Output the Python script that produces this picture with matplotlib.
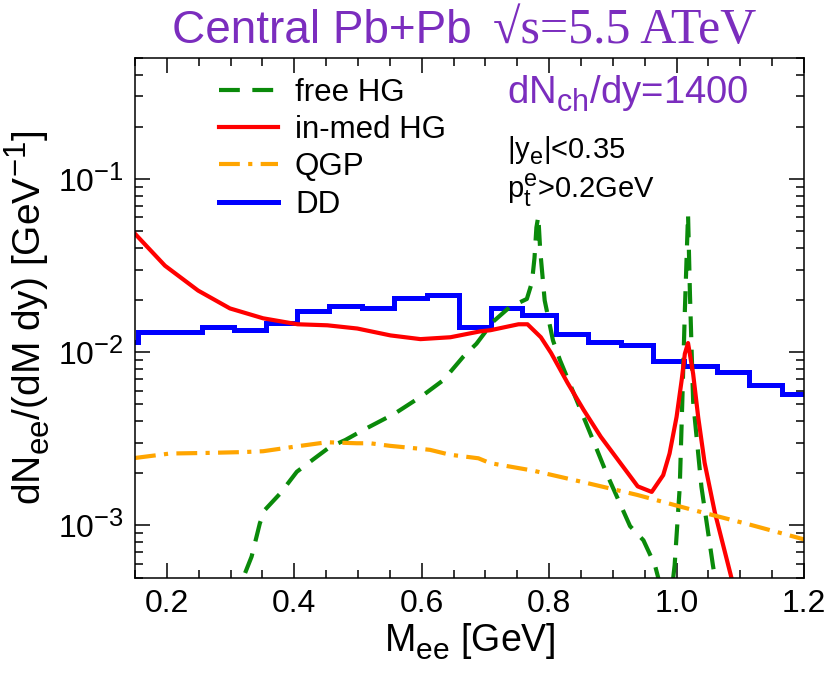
import matplotlib
matplotlib.use("Agg")
import matplotlib.pyplot as plt
import matplotlib._mathtext as _mt
import numpy as np
from matplotlib.ticker import LogLocator, MultipleLocator, NullFormatter

plt.rcParams['font.family'] = ['Liberation Sans', 'DejaVu Sans']
plt.rcParams['mathtext.fontset'] = 'custom'
plt.rcParams['mathtext.rm'] = 'Liberation Sans'
plt.rcParams['mathtext.it'] = 'Liberation Sans:italic'
plt.rcParams['mathtext.default'] = 'regular'
# larger, deeper sub/superscripts as in the reference
_mt.SHRINK_FACTOR = 0.8
_mt.FontConstantsBase.sub1 = 0.4
_mt.FontConstantsBase.sub2 = 0.55

# ---- data ----
red_x = [0.15, 0.197, 0.249, 0.299, 0.351, 0.405, 0.452, 0.499, 0.551, 0.598, 0.645,
         0.692, 0.708, 0.752, 0.766, 0.787, 0.803, 0.829, 0.854, 0.881, 0.908, 0.939,
         0.961, 0.979, 0.989, 1.000, 1.008, 1.013, 1.018, 1.026, 1.034, 1.044, 1.060,
         1.086, 1.100]
red_y = [0.0483, 0.0316, 0.0227, 0.0179, 0.0157, 0.0145, 0.0143, 0.0137, 0.0125, 0.0119,
         0.0122, 0.0132, 0.0134, 0.0145, 0.0145, 0.0122, 0.0099, 0.00664, 0.00465, 0.00325,
         0.00239, 0.00168, 0.00156, 0.00195, 0.0026, 0.00423, 0.0069, 0.0098, 0.0113,
         0.0075, 0.0042, 0.0023, 0.00119, 0.0005, 0.00035]

green_x = [0.305, 0.320, 0.333, 0.346, 0.354, 0.378, 0.404, 0.432, 0.456, 0.480, 0.508,
           0.558, 0.602, 0.634, 0.665, 0.686, 0.712, 0.738, 0.765, 0.773, 0.777, 0.780,
           0.783, 0.786, 0.793, 0.806, 0.817, 0.843, 0.869, 0.890, 0.927, 0.948, 0.966,
           0.978, 0.990, 0.997, 1.005, 1.009, 1.013, 1.018, 1.021, 1.026, 1.039, 1.057,
           1.070]
green_y = [3.5e-4, 5e-4, 6.6e-4, 1.03e-3, 1.23e-3, 1.53e-3, 2.04e-3, 2.44e-3, 2.84e-3,
           3.11e-3, 3.55e-3, 4.43e-3, 5.64e-3, 6.9e-3, 9.4e-3, 0.0112, 0.0150, 0.0182,
           0.0203, 0.0253, 0.035, 0.0525, 0.061, 0.0386, 0.0199, 0.0117, 0.0090, 5.3e-3,
           3.1e-3, 2.0e-3, 9.9e-4, 8.2e-4, 5.9e-4, 4.0e-4, 3.5e-4, 5.9e-4, 1.67e-3, 5.2e-3,
           0.0174, 0.0626, 0.0216, 5.2e-3, 1.67e-3, 5.9e-4, 3e-4]

qgp_x = [0.15, 0.205, 0.2625, 0.32, 0.351, 0.404, 0.451, 0.498, 0.519, 0.550, 0.597, 0.613,
         0.644, 0.689, 0.707, 0.775, 0.864, 0.938, 1.021, 1.115, 1.2]
qgp_y = [0.00245, 0.0026, 0.00262, 0.00265, 0.00268, 0.00286, 0.00302, 0.00298, 0.00298,
         0.00288, 0.00277, 0.00273, 0.00256, 0.00244, 0.00229, 0.00207, 0.00174, 0.0015,
         0.00124, 0.00101, 0.00083]

dd_edges = [0.105, 0.155, 0.205, 0.255, 0.306, 0.356, 0.405, 0.455, 0.507, 0.556, 0.609,
            0.659, 0.709, 0.758, 0.811, 0.861, 0.912, 0.963, 1.012, 1.064, 1.114, 1.165, 1.215]
dd_vals = [0.0115, 0.0131, 0.0131, 0.0140, 0.0135, 0.0147, 0.0174, 0.0186, 0.0181, 0.0206,
           0.0215, 0.0139, 0.0181, 0.0163, 0.0128, 0.0115, 0.0110, 0.0089, 0.0083, 0.0077,
           0.0065, 0.0057]

labels = ['free HG', 'in-med HG', 'QGP', 'DD']
xticks = [0.2, 0.4, 0.6, 0.8, 1.0, 1.2]

purple = '#7B2DBE'

fig = plt.figure(figsize=(8.3, 6.78), dpi=100)
ax = fig.add_axes([135/830, 1-577.5/678, 669/830, 519.5/678])

ax.plot(green_x, green_y, color='#0a8a0a', lw=3.0, dashes=(5, 3), label=labels[0])
ax.plot(red_x, red_y, color='#ff0000', lw=3.0, label=labels[1])
ax.plot(qgp_x, qgp_y, color='#ffa500', lw=3.0, dashes=(5, 2, 1, 2), label=labels[2])
ax.stairs(dd_vals, dd_edges, color='#0000ff', lw=3.6, baseline=None, label=labels[3])

ax.set_yscale('log')
ax.set_xlim(0.15, 1.2)
ax.set_ylim(5e-4, 0.5)
ax.set_xticks(xticks)
ax.set_xticklabels(['%.1f' % v for v in xticks])
ax.xaxis.set_minor_locator(MultipleLocator(0.05))
ax.yaxis.set_major_locator(LogLocator(base=10, numticks=10))
ax.yaxis.set_minor_locator(LogLocator(base=10, subs=np.arange(2, 10), numticks=20))
ax.yaxis.set_minor_formatter(NullFormatter())
ax.tick_params(which='both', direction='in', top=True, right=True, width=1.1,
               labelsize=23, colors='black')
ax.tick_params(which='major', length=10.5, pad=8)
ax.tick_params(which='minor', length=5.5)
for s in ax.spines.values():
    s.set_linewidth(1.1)

ax.set_xlabel(r'M$_{ee}$ [GeV]', fontsize=27, labelpad=2)
ax.set_ylabel(r'dN$_{ee}$/(dM dy) [GeV$^{-1}$]', fontsize=28, labelpad=4)

leg = ax.legend(loc='upper left', bbox_to_anchor=(0.1256, 0.9615), frameon=False,
                fontsize=22.5, handlelength=1.89, handletextpad=0.54, labelspacing=0.23,
                borderaxespad=0, borderpad=0)

ax.text(0.556, 0.913, r'dN$_{ch}$/dy=1400', transform=ax.transAxes, fontsize=27.5,
        color=purple, va='baseline', ha='left')
ax.text(0.556, 0.806, r'|y$_e$|<0.35', transform=ax.transAxes, fontsize=21,
        color='black', va='baseline', ha='left')
ax.text(0.556, 0.730, r'p$_t^e$>0.2GeV', transform=ax.transAxes, fontsize=21,
        color='black', va='baseline', ha='left')

fig.text(472/830, 1-43/678, 'Central Pb+Pb', fontsize=33, color=purple,
         ha='right', va='baseline')
fig.text(493/830, 1-43/678, '\u221As=5.5 ATeV', fontsize=36, color=purple,
         ha='left', va='baseline', family=['Liberation Serif', 'DejaVu Serif'])

fig.savefig('out.png', dpi=100)
